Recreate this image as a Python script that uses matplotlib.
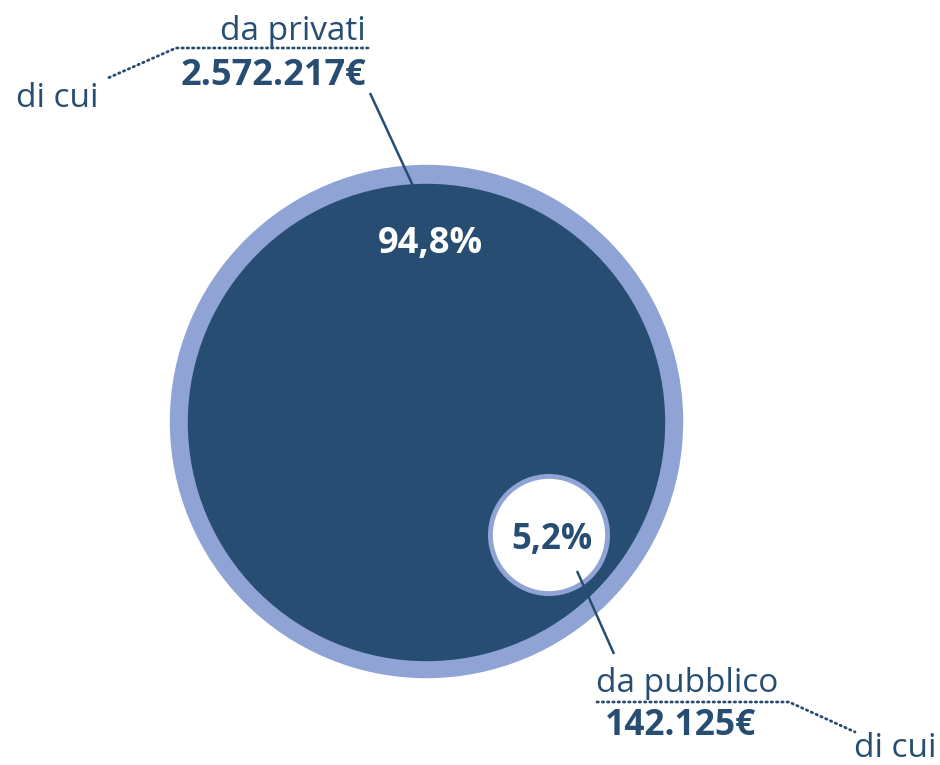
import numpy as np
import matplotlib.pyplot as plt
from matplotlib.patches import Circle

plt.rcParams['font.family'] = ['Open Sans', 'DejaVu Sans']

labels = ['da privati', 'da pubblico']
values = [2572217, 142125]
value_text = ['2.572.217€', '142.125€']

dark = '#274d72'
light = '#8fa4d5'

total = sum(values)
shares = [v / total for v in values]
pct = [('%.1f%%' % (s * 100)).replace('.', ',') for s in shares]

fig = plt.figure(figsize=(9.4, 7.65), dpi=100)
ax = fig.add_axes([0, 0, 1, 1])
ax.set_xlim(0, 940)
ax.set_ylim(765, 0)
ax.set_aspect('equal')
ax.axis('off')

# big circle (total) with light ring
R = 256
cx, cy = 426.5, 421.5
ax.add_patch(Circle((cx, cy), R, color=light, zorder=1))
ax.add_patch(Circle((cx, cy + 1), R - 18, color=dark, zorder=2))

# small circle, area proportional to public share
r = R * np.sqrt(shares[1])
sx, sy = 549, 535
ax.add_patch(Circle((sx, sy), r, facecolor='white', edgecolor=light, lw=3.5, zorder=3))

ax.text(430, 244, pct[0], color='white', fontsize=26, fontweight='bold',
        ha='center', va='center', zorder=4)
ax.text(552, 540, pct[1], color=dark, fontsize=25, fontweight='bold',
        ha='center', va='center', zorder=4)

# leader lines
ax.plot([370, 414], [93, 188], color=dark, lw=1.8, zorder=5, solid_capstyle='butt')
ax.plot([577, 614], [571, 654], color=dark, lw=1.8, zorder=5, solid_capstyle='butt')

dots = dict(color=dark, lw=2, linestyle=(0, (0.5, 1.4)), dash_capstyle='round')

# top annotation
ax.text(366, 40, labels[0], color=dark, fontsize=24, ha='right', va='baseline')
ax.plot([368, 176, 108], [48, 48, 78], **dots)
ax.text(366, 85, value_text[0], color=dark, fontsize=26, fontweight='bold',
        ha='right', va='baseline')
ax.text(16, 107, 'di cui', color=dark, fontsize=24, ha='left', va='baseline')

# bottom annotation
ax.text(596, 692, labels[1], color=dark, fontsize=24, ha='left', va='baseline')
ax.plot([597, 789, 855], [702, 702, 732], **dots)
ax.text(605, 735, value_text[1], color=dark, fontsize=25.5, fontweight='bold',
        ha='left', va='baseline')
ax.text(936, 757, 'di cui', color=dark, fontsize=24, ha='right', va='baseline')

fig.savefig('out.png', dpi=100)
